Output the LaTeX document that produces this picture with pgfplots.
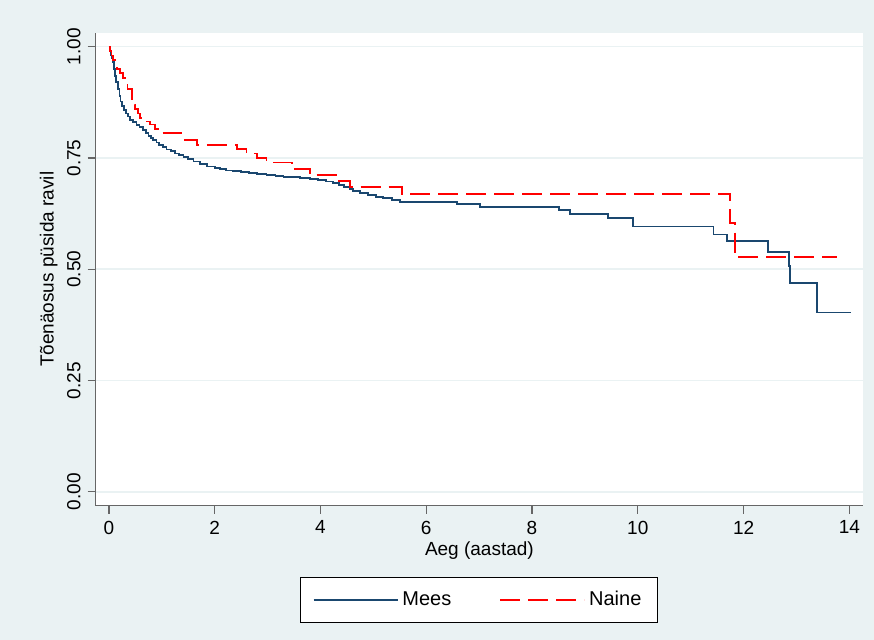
\documentclass[border=0pt]{standalone}
\usepackage{pgfplots}
\pgfplotsset{compat=1.18}
\usepackage{fontspec}
\setmainfont{Liberation Sans}
\definecolor{bgc}{HTML}{EAF2F3}
\definecolor{navy}{HTML}{1A476F}
\begin{document}
\begin{tikzpicture}[x=0.5pt,y=0.5pt]
\fill[bgc] (0,0) rectangle (874,640);
\useasboundingbox (0,0) rectangle (874,640);
\begin{axis}[at={(47.85pt,67.15pt)},anchor=south west,scale only axis,
 width=383.7pt,height=236.4pt,
 xmin=-0.25,xmax=14.26,ymin=-0.031,ymax=1.031,
 axis background/.style={fill=white},
 axis x line*=bottom,axis y line*=left,
 axis line style={gray!80!black,line width=0.6pt},
 xtick={0,2,...,14},ytick={0,0.25,0.5,0.75,1},
 yticklabels={0.00,0.25,0.50,0.75,1.00},
 yticklabel style={rotate=90,anchor=south},
 ymajorgrids,grid style={bgc,line width=0.8pt},
 tick align=outside,tick style={gray!80!black,line width=0.6pt},
 major tick length=4pt,
 /pgf/number format/assume math mode=true,
 tick label style={font=\fontsize{9.5}{10}\selectfont},
 label style={font=\fontsize{9.5}{10}\selectfont},
 xlabel={Aeg (aastad)},ylabel={Tõenäosus püsida ravil},
 xlabel style={yshift=3pt},ylabel style={yshift=-2pt},
 legend style={at={(0.4995,-0.1505)},anchor=north,legend columns=2,
   font=\fontsize{10}{11}\selectfont,draw=black,
   /tikz/every even column/.append style={column sep=22pt},inner xsep=6pt,inner ysep=5pt},
 legend image code/.code={\draw[#1] (0pt,0pt) -- (42pt,0pt);},
]
\addplot[navy,line width=0.9pt,const plot] coordinates {
(0,1) (0.01,0.99) (0.03,0.98) (0.05,0.975) (0.08,0.965) (0.10,0.95) (0.12,0.935) (0.14,0.92) (0.17,0.905) (0.2,0.89) (0.22,0.877) (0.24,0.866) (0.28,0.858) (0.32,0.85) (0.36,0.843) (0.4,0.836) (0.46,0.83) (0.52,0.824) (0.58,0.819) (0.65,0.813) (0.7,0.806) (0.75,0.80) (0.8,0.795) (0.84,0.791) (0.9,0.785) (0.95,0.78) (1.02,0.774) (1.09,0.769) (1.17,0.765) (1.25,0.76) (1.33,0.756) (1.41,0.753) (1.5,0.748) (1.6,0.742) (1.72,0.737) (1.85,0.731) (2.0,0.728) (2.1,0.725) (2.22,0.722) (2.35,0.720) (2.5,0.718) (2.65,0.716) (2.8,0.714) (2.98,0.712) (3.15,0.710) (3.3,0.708) (3.45,0.707) (3.61,0.705) (3.8,0.703) (3.95,0.70) (4.1,0.697) (4.24,0.694) (4.35,0.69) (4.45,0.685) (4.55,0.68) (4.62,0.675) (4.75,0.671) (4.9,0.667) (5.05,0.663) (5.18,0.660) (5.35,0.656) (5.5,0.652) (6.58,0.647) (7.02,0.640) (8.51,0.633) (8.72,0.624) (9.44,0.616) (9.91,0.596) (11.43,0.578) (11.69,0.563) (12.46,0.538) (12.86,0.508) (12.88,0.470) (13.39,0.403) (14.03,0.403)};
\addlegendentry{Mees}
\addplot[red,line width=0.9pt,const plot,dash pattern=on 10pt off 4pt] coordinates {
(0,1) (0.02,0.99) (0.05,0.98) (0.08,0.97) (0.12,0.96) (0.15,0.95) (0.21,0.94) (0.26,0.93) (0.3,0.92) (0.35,0.905) (0.43,0.88) (0.47,0.87) (0.5,0.86) (0.55,0.85) (0.59,0.84) (0.68,0.832) (0.78,0.825) (0.87,0.815) (0.96,0.806) (1.37,0.791) (1.66,0.780) (2.42,0.77) (2.6,0.76) (2.8,0.75) (2.98,0.74) (3.46,0.725) (3.8,0.712) (4.31,0.698) (4.56,0.685) (5.54,0.670) (11.75,0.604) (11.84,0.527) (13.77,0.527)};
\addlegendentry{Naine}
\end{axis}
\end{tikzpicture}
\end{document}
